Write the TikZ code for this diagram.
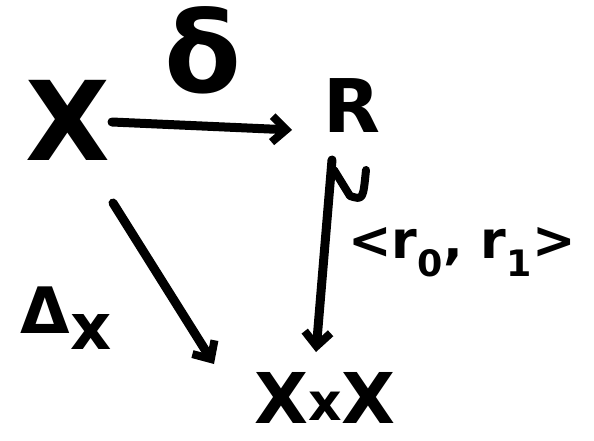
\documentclass[tikz,border=0pt]{standalone}
\usepackage{fontspec}
\setmainfont{DejaVu Sans}
\usetikzlibrary{arrows.meta,calc}
\begin{document}
\begin{tikzpicture}[x=1pt,y=-1pt,
  obj/.style={inner sep=0pt, font=\bfseries\fontsize{110}{110}\selectfont},
  lab/.style={inner sep=0pt},
  arr/.style={line width=9pt, line cap=round, -{Straight Barb[length=14pt,width=26pt,line width=8pt]}}]
\useasboundingbox (0,0) rectangle (594,441);
\node[obj] (X) at (68,120) {X};
\node[obj, font=\bfseries\fontsize{74}{74}\selectfont] (R) at (352,106) {R};
\node[obj, font=\bfseries\fontsize{70}{70}\selectfont] (XX) at (325,398) {X\raisebox{3pt}{\fontsize{52}{52}\selectfont x}X};
\node[lab, font=\bfseries\fontsize{112}{112}\selectfont] (d) at (203,50) {δ};
\node[lab, font=\bfseries\fontsize{52}{52}\selectfont] (r) at (462,252) {<r\textsubscript{0}, r\textsubscript{1}>};
\node[lab, font=\bfseries\fontsize{64}{64}\selectfont] (D) at (66,318) {Δ\raisebox{-16pt}{x}};
\coordinate (a1) at (112,122);
\coordinate (a2) at (292,130);
\coordinate (b1) at (332,160);
\coordinate (b2) at (316,352);
\coordinate (c1) at (113,203);
\coordinate (c2) at (214,364);
\coordinate (t0) at (334,170);
\coordinate (t1) at (350,196);
\coordinate (t3) at (363,200);
\coordinate (t2) at (366,170);
\draw[arr] (a1) -- (a2);
\draw[arr] (b1) -- (b2);
\draw[line width=8pt, line cap=round, line join=round] (t0) -- (t1) .. controls (t3) .. (t2);
\draw[arr] (c1) -- (c2);
\end{tikzpicture}
\end{document}
